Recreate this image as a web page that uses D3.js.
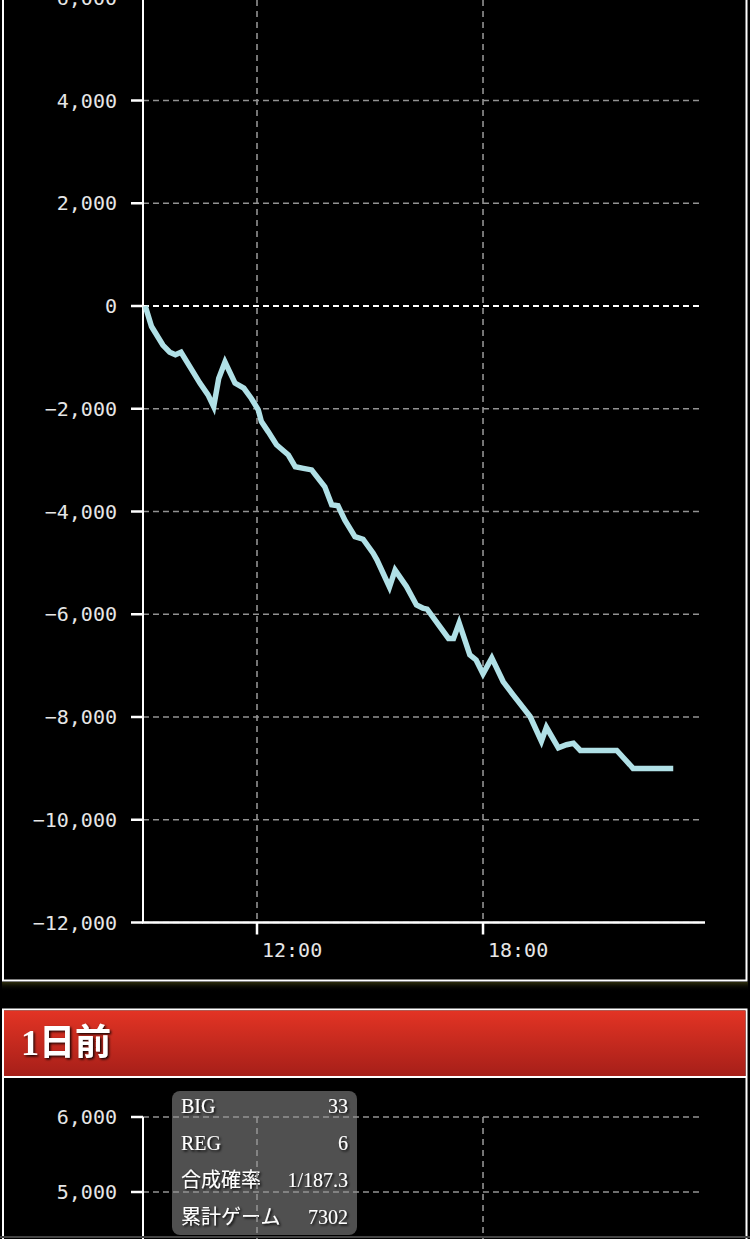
<!DOCTYPE html>
<html><head><meta charset="utf-8">
<script src="https://cdn.jsdelivr.net/npm/d3@7"></script>
<style>
html,body{margin:0;padding:0;background:#000;}
svg{display:block;}
</style></head>
<body>
<script>
// ---------- data ----------
const times = ["09:02","09:12","09:30","09:41","09:50","09:59","10:13","10:29","10:42","10:51","10:59","11:09","11:25","11:39","11:51","12:02","12:07","12:18","12:31","12:50","13:01","13:14","13:27","13:48","13:59","14:09","14:20","14:36","14:49","15:05","15:11","15:31","15:40","15:58","16:14","16:24","16:31","17:05","17:13","17:22","17:39","17:49","18:00","18:14","18:32","18:48","19:15","19:33","19:41","20:00","20:13","20:24","20:35","21:33","21:54","21:59","23:03"];
const values = [0,-400,-760,-900,-950,-900,-1180,-1500,-1730,-1960,-1410,-1090,-1500,-1600,-1800,-2020,-2250,-2450,-2700,-2900,-3130,-3160,-3190,-3520,-3870,-3890,-4170,-4490,-4540,-4810,-4940,-5470,-5140,-5460,-5820,-5880,-5900,-6470,-6470,-6170,-6790,-6890,-7160,-6850,-7310,-7570,-7990,-8470,-8200,-8600,-8540,-8510,-8650,-8650,-8930,-9000,-9000];
const yTicks1 = [-12000,-10000,-8000,-6000,-4000,-2000,0,2000,4000,6000];
const xTicks = ["12:00","18:00"];
const yTicks2 = [5000,6000];
const panel2Title = "1日前";
const tipLabels = ["BIG","REG","合成確率","累計ゲーム"];
const tipValues = ["33","6","1/187.3","7302"];

// ---------- helpers ----------
const parseT = s => { const [h,m]=s.split(":").map(Number); return new Date(2024,0,1,h,m); };
const W = 750, H = 1239;
const svg = d3.select("body").append("svg").attr("width",W).attr("height",H);

const defs = svg.append("defs");
const hg = defs.append("linearGradient").attr("id","hdr").attr("x1",0).attr("y1",0).attr("x2",0).attr("y2",1);
hg.append("stop").attr("offset","0%").attr("stop-color","#e33424");
hg.append("stop").attr("offset","100%").attr("stop-color","#a61f19");
const sg = defs.append("linearGradient").attr("id","shd").attr("x1",0).attr("y1",0).attr("x2",0).attr("y2",1);
sg.append("stop").attr("offset","0%").attr("stop-color","#3a3a10").attr("stop-opacity",0.8);
sg.append("stop").attr("offset","100%").attr("stop-color","#000").attr("stop-opacity",0);
const tf = defs.append("filter").attr("id","ts").attr("x","-20%").attr("y","-20%").attr("width","140%").attr("height","140%");
tf.append("feDropShadow").attr("dx",1.5).attr("dy",1.5).attr("stdDeviation",0.8).attr("flood-color","#000").attr("flood-opacity",0.9);

const x = d3.scaleTime()
  .domain([new Date(2024,0,1,8,58,25), new Date(2024,0,1,23,53,35)])
  .range([143, 705]);
const plotRight = 701;
const MONO = "'DejaVu Sans Mono', monospace";
const SERIF = "'Liberation Serif','DejaVu Serif','Noto Sans CJK JP',serif";

function drawChart(g, y, yTicks, yTop, yBottom, showXAxis, beforeGrid) {
  if (beforeGrid) beforeGrid(g);
  g.selectAll(".vg").data(xTicks).enter().append("line")
    .attr("x1", d => x(parseT(d))).attr("x2", d => x(parseT(d)))
    .attr("y1", yTop).attr("y2", yBottom)
    .attr("stroke","#929292").attr("stroke-width",1.6).attr("stroke-dasharray","6,5");
  g.selectAll(".hg").data(yTicks).enter().append("line")
    .attr("x1", 143).attr("x2", plotRight)
    .attr("y1", d => y(d)).attr("y2", d => y(d))
    .attr("stroke", d => d===0 ? "#ffffff" : "#929292")
    .attr("stroke-width", d => d===0 ? 2 : 1.6)
    .attr("stroke-dasharray","6,4");
  g.append("line").attr("x1",143).attr("x2",143).attr("y1",yTop).attr("y2",yBottom)
    .attr("stroke","#fff").attr("stroke-width",2);
  g.selectAll(".yt").data(yTicks).enter().append("line")
    .attr("x1",131).attr("x2",143).attr("y1",d=>y(d)).attr("y2",d=>y(d))
    .attr("stroke","#fff").attr("stroke-width",2.5);
  g.selectAll(".yl").data(yTicks).enter().append("text")
    .attr("x",117).attr("y",d=>y(d)).attr("dy","0.36em")
    .attr("text-anchor","end").attr("fill","#e6e6e6")
    .style("font-family",MONO).style("font-size","20px")
    .text(d => d3.format(",")(d));
  if (showXAxis) {
    g.append("line").attr("x1",142).attr("x2",705).attr("y1",yBottom).attr("y2",yBottom)
      .attr("stroke","#fff").attr("stroke-width",2.5);
    g.selectAll(".xt").data(xTicks).enter().append("line")
      .attr("x1",d=>x(parseT(d))).attr("x2",d=>x(parseT(d)))
      .attr("y1",yBottom).attr("y2",yBottom+12)
      .attr("stroke","#fff").attr("stroke-width",2.5);
    g.selectAll(".xl").data(xTicks).enter().append("text")
      .attr("x",d=>x(parseT(d))+5).attr("y",yBottom+34)
      .attr("fill","#e6e6e6")
      .style("font-family",MONO).style("font-size","20px")
      .text(d=>d);
  }
}

// ---------- panel 1 ----------
const y1 = d3.scaleLinear().domain([-12000, 6000]).range([922.5, -2.25]);
svg.append("rect").attr("x",3).attr("y",-20).attr("width",743.5).attr("height",1000.5)
  .attr("fill","#000").attr("stroke","#fff").attr("stroke-width",2);
svg.append("rect").attr("x",2).attr("y",982).attr("width",746).attr("height",9).attr("fill","url(#shd)");
const g1 = svg.append("g");
drawChart(g1, y1, yTicks1, 0, y1(-12000), true);
const pts = times.map((t,i)=>({t:parseT(t), v:values[i]}));
g1.append("path").datum(pts)
  .attr("fill","none").attr("stroke","#b0e0e6").attr("stroke-width",5.5)
  .attr("stroke-linejoin","miter")
  .attr("d", d3.line().x(d=>x(d.t)).y(d=>y1(d.v)));

// ---------- panel 2 ----------
svg.append("rect").attr("x",3).attr("y",1009.5).attr("width",743.5).attr("height",300)
  .attr("fill","#000").attr("stroke","#fff").attr("stroke-width",2);
svg.append("rect").attr("x",4).attr("y",1010.5).attr("width",741.5).attr("height",65.5).attr("fill","url(#hdr)");
svg.append("line").attr("x1",3).attr("x2",747).attr("y1",1077).attr("y2",1077).attr("stroke","#fff").attr("stroke-width",2);
svg.append("text").attr("x",21).attr("y",1055).attr("fill","#fff")
  .attr("filter","url(#ts)")
  .style("font-family",SERIF).style("font-size","36px").style("font-weight","bold")
  .text(panel2Title);

const y2 = d3.scaleLinear().domain([-6000, 6000]).range([2017, 1117]);
const g2 = svg.append("g");
drawChart(g2, y2, yTicks2, y2(6000), H, false, g => {
  const tip = g.append("g");
  tip.append("rect").attr("x",172).attr("y",1091).attr("width",185).attr("height",144).attr("rx",8)
    .attr("fill","#505050");
  tip.selectAll(".tl").data(tipLabels).enter().append("text")
    .attr("x",181).attr("y",(d,i)=>1113+i*37).attr("fill","#fff").attr("filter","url(#ts)")
    .style("font-family",SERIF).style("font-size","20px").text(d=>d);
  tip.selectAll(".tv").data(tipValues).enter().append("text")
    .attr("x",348).attr("y",(d,i)=>1113+i*37).attr("fill","#fff").attr("filter","url(#ts)")
    .attr("text-anchor","end")
    .style("font-family",SERIF).style("font-size","20px").text(d=>d);
});
svg.append("line").attr("x1",0).attr("x2",W).attr("y1",1237).attr("y2",1237).attr("stroke","#444").attr("stroke-width",2);
</script>
</body></html>
